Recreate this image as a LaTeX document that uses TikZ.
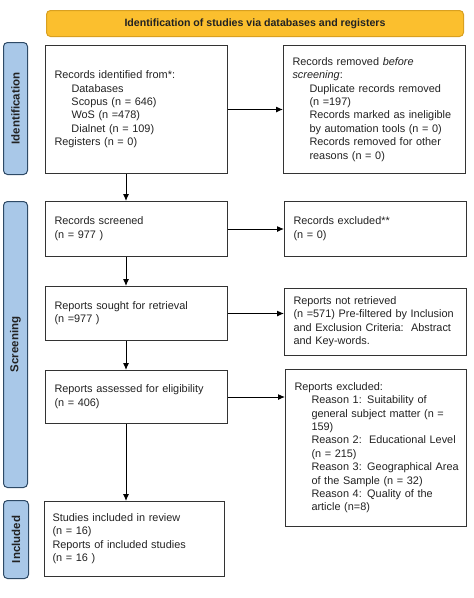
\documentclass[tikz,border=0pt]{standalone}
\usepackage{fontspec}
\setmainfont{Liberation Sans}
\usetikzlibrary{arrows.meta,positioning}
\definecolor{hdrfill}{HTML}{FBBF2E}
\definecolor{hdrdraw}{HTML}{D9A020}
\definecolor{sidefill}{HTML}{A9C8E8}
\definecolor{sidedraw}{HTML}{2E4A66}
\definecolor{txt}{HTML}{222222}
\definecolor{boxline}{HTML}{333333}
\tikzset{
  box/.style={draw=boxline, line width=1pt, anchor=north west, inner xsep=9pt, inner ysep=2pt,
    align=left, text=txt, font=\fontsize{10.9}{13.4}\selectfont},
  sidelbl/.style={draw=sidedraw, fill=sidefill, line width=1pt, rounded corners=4pt, anchor=north west,
    inner sep=0pt, text=txt},
  sidetxt/.style={rotate=90, font=\bfseries\fontsize{11.5}{13}\selectfont, text=txt},
  arr/.style={line width=1pt, draw=black, -{Latex[length=7pt,width=6pt]}},
}
\newcommand{\ind}{\hspace*{17pt}}
\newcommand{\lines}[1]{\begin{tabular}{@{}l@{}}#1\end{tabular}}
\begin{document}
\begin{tikzpicture}[x=1pt,y=-1pt]
\useasboundingbox (0,0) rectangle (474,598);
% header
\node[draw=hdrdraw, fill=hdrfill, line width=1pt, rounded corners=4pt, anchor=north west,
  minimum width=417pt, minimum height=26pt, inner sep=0pt, text=txt,
  font=\bfseries\fontsize{10.6}{12}\selectfont] (hdr) at (46,10)
  {Identification of studies via databases and registers};
% side labels
\node[sidelbl, minimum width=24pt, minimum height=132pt] (sid) at (3,42) {};
\node[sidetxt] (tid) at (sid.center) {Identification};
\node[sidelbl, minimum width=24pt, minimum height=286pt] (sscr) at (3,201) {};
\node[sidetxt] (tscr) at (sscr.center) {Screening};
\node[sidelbl, minimum width=25pt, minimum height=78pt] (sinc) at (3,500) {};
\node[sidetxt] (tinc) at (sinc.center) {Included};
% boxes
\node[box, minimum width=182pt, minimum height=128pt, text width=164pt] (b1) at (45,45)
 {\lines{Records identified from*:\\ \ind Databases\\ \ind Scopus (n = 646)\\ \ind WoS (n =478)\\ \ind Dialnet (n = 109)\\ Registers (n = 0)}};
\node[box, minimum width=182pt, minimum height=128pt, text width=164pt] (b2) at (283,45)
 {\lines{Records removed \textit{before}\\ \textit{screening}:\\ \ind Duplicate records removed\\ \ind (n =197)\\ \ind Records marked as ineligible\\ \ind by automation tools (n = 0)\\ \ind Records removed for other\\ \ind reasons (n = 0)}};
\node[box, minimum width=182pt, minimum height=55pt, text width=164pt] (b3) at (45,201)
 {\lines{Records screened\\ (n = 977 )}};
\node[box, minimum width=182pt, minimum height=55pt, text width=164pt] (b4) at (284,201)
 {\lines{Records excluded**\\ (n = 0)}};
\node[box, minimum width=182pt, minimum height=54pt, text width=164pt] (b5) at (45,286)
 {\lines{Reports sought for retrieval\\ (n =977 )}};
\node[box, minimum width=182pt, minimum height=67pt, text width=164pt] (b6) at (284,288)
 {\lines{Reports not retrieved\\ (n =571) Pre-filtered by Inclusion\\ and Exclusion Criteria:\ \ Abstract\\ and Key-words.}};
\node[box, minimum width=182pt, minimum height=53pt, text width=164pt] (b7) at (45,370)
 {\lines{Reports assessed for eligibility\\ (n = 406)}};
\node[box, minimum width=181pt, minimum height=157pt, text width=163pt] (b8) at (285,369)
 {\lines{Reports excluded:\\ \ind Reason 1: Suitability of\\ \ind general subject matter (n =\\ \ind 159)\\ \ind Reason 2:\ \ Educational Level\\ \ind (n = 215)\\ \ind Reason 3: Geographical Area\\ \ind of the Sample (n = 32)\\ \ind Reason 4: Quality of the\\ \ind article (n=8)}};
\node[box, minimum width=180pt, minimum height=75pt, text width=164pt, inner xsep=8pt] (b9) at (44,501)
 {\lines{Studies included in review\\ (n = 16)\\ Reports of included studies\\ (n = 16 )}};
% connectors
\coordinate (ax) at (126,0);
\draw[arr] (b1.east) -- (b1.east -| b2.west);
\draw[arr] (b3.east) -- (b3.east -| b4.west);
\draw[arr] (b5.east) -- (b5.east -| b6.west);
\draw[arr] (b7.east) -- (b7.east -| b8.west);
\draw[arr] (b1.south -| ax) -- (b3.north -| ax);
\draw[arr] (b3.south -| ax) -- (b5.north -| ax);
\draw[arr] (b5.south -| ax) -- (b7.north -| ax);
\draw[arr] (b7.south -| ax) -- (b9.north -| ax);
\end{tikzpicture}
\end{document}
